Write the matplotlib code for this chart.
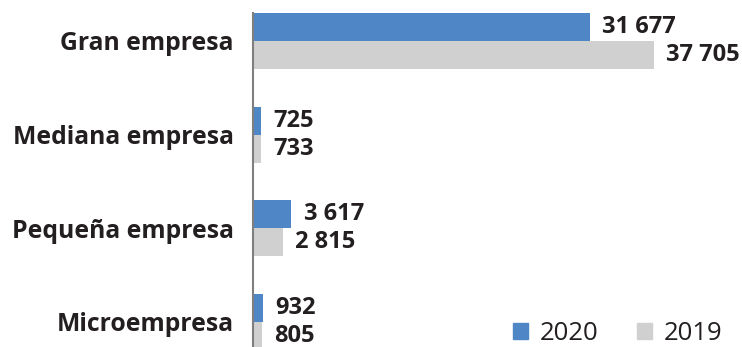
import matplotlib
matplotlib.use("Agg")
import matplotlib.pyplot as plt
from matplotlib.patches import Patch

# Company sizes and yearly totals
categories = ["Gran empresa", "Mediana empresa", "Pequeña empresa", "Microempresa"]
values_2020 = [31677, 725, 3617, 932]
values_2019 = [37705, 733, 2815, 805]
years = ["2020", "2019"]

BLUE = "#4f86c6"
GRAY = "#d0d0d0"
TEXT = "#231f20"

plt.rcParams["font.family"] = ["Open Sans", "DejaVu Sans"]


def fmt(v):
    return f"{v:,}".replace(",", " ")


def main():
    W, H = 742, 347
    fig = plt.figure(figsize=(W / 100, H / 100), dpi=100)
    ax = fig.add_axes([253 / W, 0, (W - 253) / W, (H - 13) / H])

    ypos = list(range(len(categories)))
    bh = 0.3
    ax.barh([y - bh / 2 for y in ypos], values_2020, height=bh, color=BLUE)
    ax.barh([y + bh / 2 for y in ypos], values_2019, height=bh, color=GRAY)

    for y, v in zip(ypos, values_2020):
        ax.annotate(fmt(v), (v, y - bh / 2), xytext=(9, 0), textcoords="offset points",
                    va="center", ha="left", fontsize=17, fontweight="bold", color=TEXT)
    for y, v in zip(ypos, values_2019):
        ax.annotate(fmt(v), (v, y + bh / 2), xytext=(9, 0), textcoords="offset points",
                    va="center", ha="left", fontsize=17, fontweight="bold", color=TEXT)

    ax.set_xlim(0, 46000)
    ax.set_ylim(3.267, -0.298)
    ax.set_yticks(ypos)
    ax.set_yticklabels(categories, fontsize=17.8, fontweight="bold", color=TEXT)
    ax.tick_params(axis="y", length=0, pad=14)
    ax.set_xticks([])
    for side in ["top", "right", "bottom"]:
        ax.spines[side].set_visible(False)
    ax.spines["left"].set_color("#7f7f7f")
    ax.spines["left"].set_linewidth(1.5)

    handles = [Patch(color=BLUE), Patch(color=GRAY)]
    fig.legend(handles, years, loc="lower right", bbox_to_anchor=(0.998, -0.05),
               ncol=2, frameon=False, fontsize=18.5, handlelength=0.6, handleheight=0.6,
               handletextpad=0.45, columnspacing=1.5, borderpad=0.2, labelcolor=TEXT)

    fig.savefig("out.png", dpi=100)


if __name__ == "__main__":
    main()
